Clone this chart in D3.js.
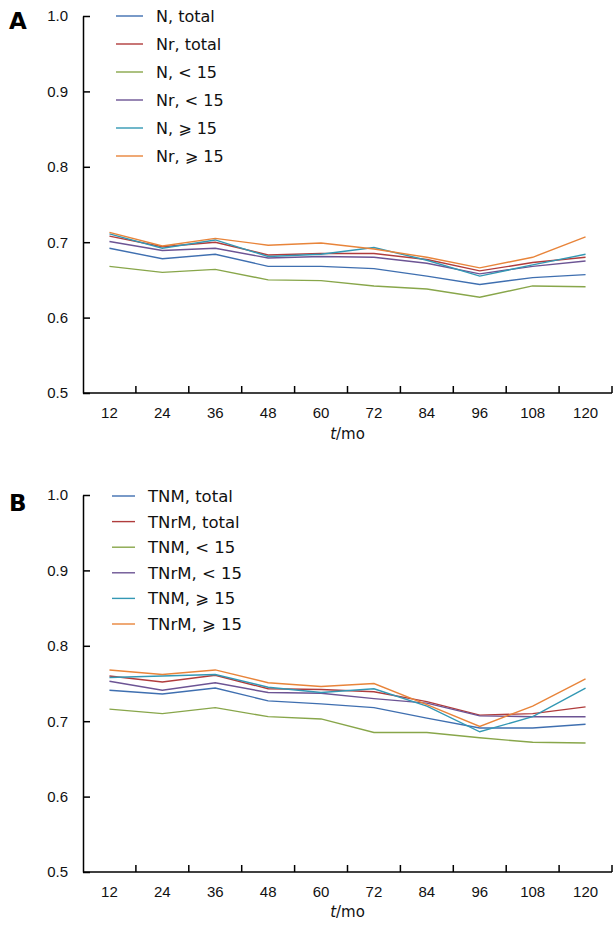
<!DOCTYPE html>
<html>
<head>
<meta charset="utf-8">
<script src="https://cdn.jsdelivr.net/npm/d3@7"></script>
<style>
  body { margin: 0; background: #fff; }
  svg { display: block; font-family: "DejaVu Sans", sans-serif; }
</style>
</head>
<body>
<div class="chart"></div>
<script>
// 공통 데이터
const months = [12, 24, 36, 48, 60, 72, 84, 96, 108, 120];
const yTicks = [0.5, 0.6, 0.7, 0.8, 0.9, 1.0];
const colors = ['#3f6fb0', '#b03c3c', '#88a64a', '#6c5494', '#3398b4', '#e8843a'];

// 패널 A
const namesA = ['N, total', 'Nr, total', 'N, < 15', 'Nr, < 15', 'N, ⩾ 15', 'Nr, ⩾ 15'];
const nTotal   = [0.692, 0.678, 0.684, 0.668, 0.668, 0.665, 0.655, 0.644, 0.653, 0.657];
const nrTotal  = [0.708, 0.694, 0.700, 0.683, 0.685, 0.685, 0.677, 0.662, 0.673, 0.680];
const nLow     = [0.668, 0.660, 0.664, 0.650, 0.649, 0.642, 0.638, 0.627, 0.642, 0.641];
const nrLow    = [0.701, 0.689, 0.692, 0.679, 0.681, 0.680, 0.672, 0.658, 0.668, 0.675];
const nHigh    = [0.711, 0.692, 0.703, 0.681, 0.684, 0.693, 0.676, 0.655, 0.670, 0.684];
const nrHigh   = [0.713, 0.695, 0.705, 0.696, 0.699, 0.691, 0.680, 0.666, 0.680, 0.707];

// 패널 B
const namesB = ['TNM, total', 'TNrM, total', 'TNM, < 15', 'TNrM, < 15', 'TNM, ⩾ 15', 'TNrM, ⩾ 15'];
const tnmTotal  = [0.741, 0.736, 0.744, 0.727, 0.723, 0.718, 0.704, 0.691, 0.691, 0.696];
const tnrmTotal = [0.760, 0.752, 0.761, 0.743, 0.742, 0.739, 0.726, 0.708, 0.710, 0.719];
const tnmLow    = [0.716, 0.710, 0.718, 0.706, 0.703, 0.685, 0.685, 0.678, 0.672, 0.671];
const tnrmLow   = [0.753, 0.741, 0.751, 0.738, 0.737, 0.730, 0.724, 0.707, 0.706, 0.706];
const tnmHigh   = [0.758, 0.760, 0.762, 0.745, 0.738, 0.743, 0.720, 0.686, 0.706, 0.744];
const tnrmHigh  = [0.768, 0.762, 0.768, 0.751, 0.746, 0.750, 0.722, 0.693, 0.720, 0.756];

const width = 613;
const height = 929;

const svg = d3.select('.chart')
  .append('svg')
  .attr('width', width)
  .attr('height', height);

/* 패널 하나 그리기 */
const drawPanel = (opt) => {
  const { letter, names, series, top, bottom, legendX, legendY, legendStep, titleY, letterY } = opt;
  const left = 83, right = 612;

  const x = d3.scaleBand().domain(months).range([left, right]);
  const y = d3.scaleLinear().domain([0.5, 1.0]).range([bottom, top]);

  const g = svg.append('g');

  // y축 (눈금 안쪽)
  g.append('g')
    .attr('transform', `translate(${left},0)`)
    .call(d3.axisLeft(y).tickValues(yTicks).tickFormat(d3.format('.1f'))
      .tickSize(-7).tickSizeOuter(0).tickPadding(15))
    .call(a => a.selectAll('text').attr('font-size', 15).attr('fill', '#111'))
    .call(a => a.selectAll('line, path').attr('stroke', '#000').attr('stroke-width', 1.5));

  // x축 라벨 (구간 가운데)
  g.append('g')
    .attr('transform', `translate(0,${bottom})`)
    .call(d3.axisBottom(x).tickSize(0).tickPadding(14))
    .call(a => a.select('.domain').remove())
    .call(a => a.selectAll('text').attr('font-size', 15).attr('fill', '#111'));

  // x축 선과 눈금 (구간 경계)
  g.append('line')
    .attr('x1', left).attr('x2', right)
    .attr('y1', bottom).attr('y2', bottom)
    .attr('stroke', '#000').attr('stroke-width', 1.5);
  g.selectAll('.xtick')
    .data(months)
    .join('line')
    .attr('class', 'xtick')
    .attr('x1', d => x(d) + x.bandwidth()).attr('x2', d => x(d) + x.bandwidth())
    .attr('y1', bottom).attr('y2', bottom - 7)
    .attr('stroke', '#000').attr('stroke-width', 1.5);

  // 축 제목
  const title = g.append('text')
    .attr('x', (left + right) / 2)
    .attr('y', titleY)
    .attr('text-anchor', 'middle')
    .attr('font-size', 15)
    .attr('fill', '#111');
  title.append('tspan').attr('font-style', 'italic').text('t');
  title.append('tspan').text('/mo');

  // 패널 글자
  g.append('text')
    .attr('x', 9)
    .attr('y', letterY)
    .attr('font-size', 23)
    .attr('font-weight', 'bold')
    .text(letter);

  // 선 그래프
  const line = d3.line()
    .x((d, i) => x(months[i]) + x.bandwidth() / 2)
    .y(d => y(d));

  g.selectAll('.series')
    .data(series)
    .join('path')
    .attr('class', 'series')
    .attr('d', d => line(d))
    .attr('fill', 'none')
    .attr('stroke', (d, i) => colors[i])
    .attr('stroke-width', 1.4);

  // 범례
  const legend = g.selectAll('.legend')
    .data(names)
    .join('g')
    .attr('class', 'legend')
    .attr('transform', (d, i) => `translate(${legendX},${legendY + i * legendStep})`);

  legend.append('line')
    .attr('x1', 0).attr('x2', opt.swatch)
    .attr('stroke', (d, i) => colors[i])
    .attr('stroke-width', 1.4);

  legend.append('text')
    .attr('x', opt.swatch + 13)
    .attr('dy', '0.36em')
    .attr('font-size', opt.legendFont)
    .attr('fill', '#111')
    .text(d => d);
};

drawPanel({
  letter: 'A', names: namesA,
  series: [nTotal, nrTotal, nLow, nrLow, nHigh, nrHigh],
  top: 16, bottom: 393,
  legendX: 116, legendY: 16, legendStep: 28, swatch: 27, legendFont: 16,
  titleY: 439, letterY: 29
});

drawPanel({
  letter: 'B', names: namesB,
  series: [tnmTotal, tnrmTotal, tnmLow, tnrmLow, tnmHigh, tnrmHigh],
  top: 495, bottom: 872,
  legendX: 112, legendY: 496, legendStep: 25.6, swatch: 23, legendFont: 16.5,
  titleY: 917, letterY: 511
});
</script>
</body>
</html>
